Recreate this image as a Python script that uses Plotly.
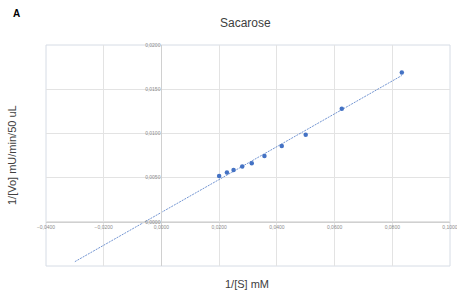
import numpy as np
import plotly.graph_objects as go

# Data (Lineweaver-Burk plot)
inv_substrate = [0.0200, 0.0227, 0.0250, 0.0280, 0.0313, 0.0357, 0.0417, 0.0500, 0.0625, 0.0833]
inv_velocity = [0.00518, 0.00557, 0.00587, 0.00625, 0.00663, 0.00743, 0.00857, 0.00986, 0.0128, 0.01688]

trend_start_x = -0.03  # trendline forecast backward to here

x_range = [-0.04, 0.10]
y_range = [-0.005, 0.02]
x_ticks = [-0.04, -0.02, 0.0, 0.02, 0.04, 0.06, 0.08, 0.10]
y_ticks = [0.0, 0.005, 0.010, 0.015, 0.020]

title_text = "Sacarose"
panel_label = "A"
x_title = "1/[S] mM"
y_title = "1/[Vo] mU/min/50 uL"

blue = "#4472C4"
grid = "#E3E3E3"
border = "#D6DCE5"
tick_col = "#8C8C8C"
font_family = "Liberation Sans, Arial, sans-serif"

# Linear trendline (least squares) extended backward
slope, intercept = np.polyfit(inv_substrate, inv_velocity, 1)
trend_x = [trend_start_x, max(inv_substrate)]
trend_y = [slope * v + intercept for v in trend_x]

W, H = 457, 292
l, r, t, b = 46, 7, 45, 26

fig = go.Figure()
fig.add_trace(go.Scatter(
    x=trend_x, y=trend_y, mode="lines",
    line=dict(color=blue, width=1, dash="2px,1px"),
    opacity=0.75, showlegend=False, hoverinfo="skip",
))
fig.add_trace(go.Scatter(
    x=inv_substrate, y=inv_velocity, mode="markers",
    marker=dict(color=blue, size=4.5),
    showlegend=False,
))

x_frac = (0 - x_range[0]) / (x_range[1] - x_range[0])
y_frac = (0 - y_range[0]) / (y_range[1] - y_range[0])

fig.update_layout(
    width=W, height=H,
    margin=dict(l=l, r=r, t=t, b=b),
    paper_bgcolor="white", plot_bgcolor="white",
    separators=",.",
    font=dict(family=font_family, color="#404040"),
    xaxis=dict(
        range=x_range, tickvals=x_ticks,
        tickformat=".4f", showgrid=True, gridcolor=grid, gridwidth=1,
        zeroline=False, showline=True, linecolor="#D0D0D0", linewidth=1,
        anchor="free", position=y_frac, ticks="", automargin=False,
        ticklabeloverflow="allow",
        tickfont=dict(size=5, color=tick_col, family=font_family),
        fixedrange=True,
    ),
    yaxis=dict(
        range=y_range, tickvals=y_ticks,
        tickformat=".4f", showgrid=True, gridcolor=grid, gridwidth=1,
        zeroline=False, showline=True, linecolor="#D0D0D0", linewidth=1,
        anchor="free", position=x_frac, ticks="", automargin=False,
        ticklabeloverflow="allow",
        tickfont=dict(size=5, color=tick_col, family=font_family),
        fixedrange=True,
    ),
    shapes=[dict(type="rect", xref="paper", yref="paper", x0=0, x1=1, y0=0, y1=1,
                 line=dict(color=border, width=1), layer="below")],
)

def px_to_paper(px, py):
    pw, ph = W - l - r, H - t - b
    return (px - l) / pw, (H - b - py) / ph

texts = [
    (title_text, 245, 23, 12, "#404040", 0),
    ("<b>%s</b>" % panel_label, 16, 13, 10, "#000000", 0),
    (x_title, 247, 284, 11, "#404040", 0),
    (y_title, 12, 155, 11, "#404040", -90),
]
for txt, px, py, size, col, ang in texts:
    ax, ay = px_to_paper(px, py)
    fig.add_annotation(text=txt, x=ax, y=ay, xref="paper", yref="paper",
                       showarrow=False, xanchor="center", yanchor="middle",
                       textangle=ang, font=dict(size=size, color=col))

fig.write_html("out.html", config={"displayModeBar": False},
               post_script="document.body.style.margin='0px';")
